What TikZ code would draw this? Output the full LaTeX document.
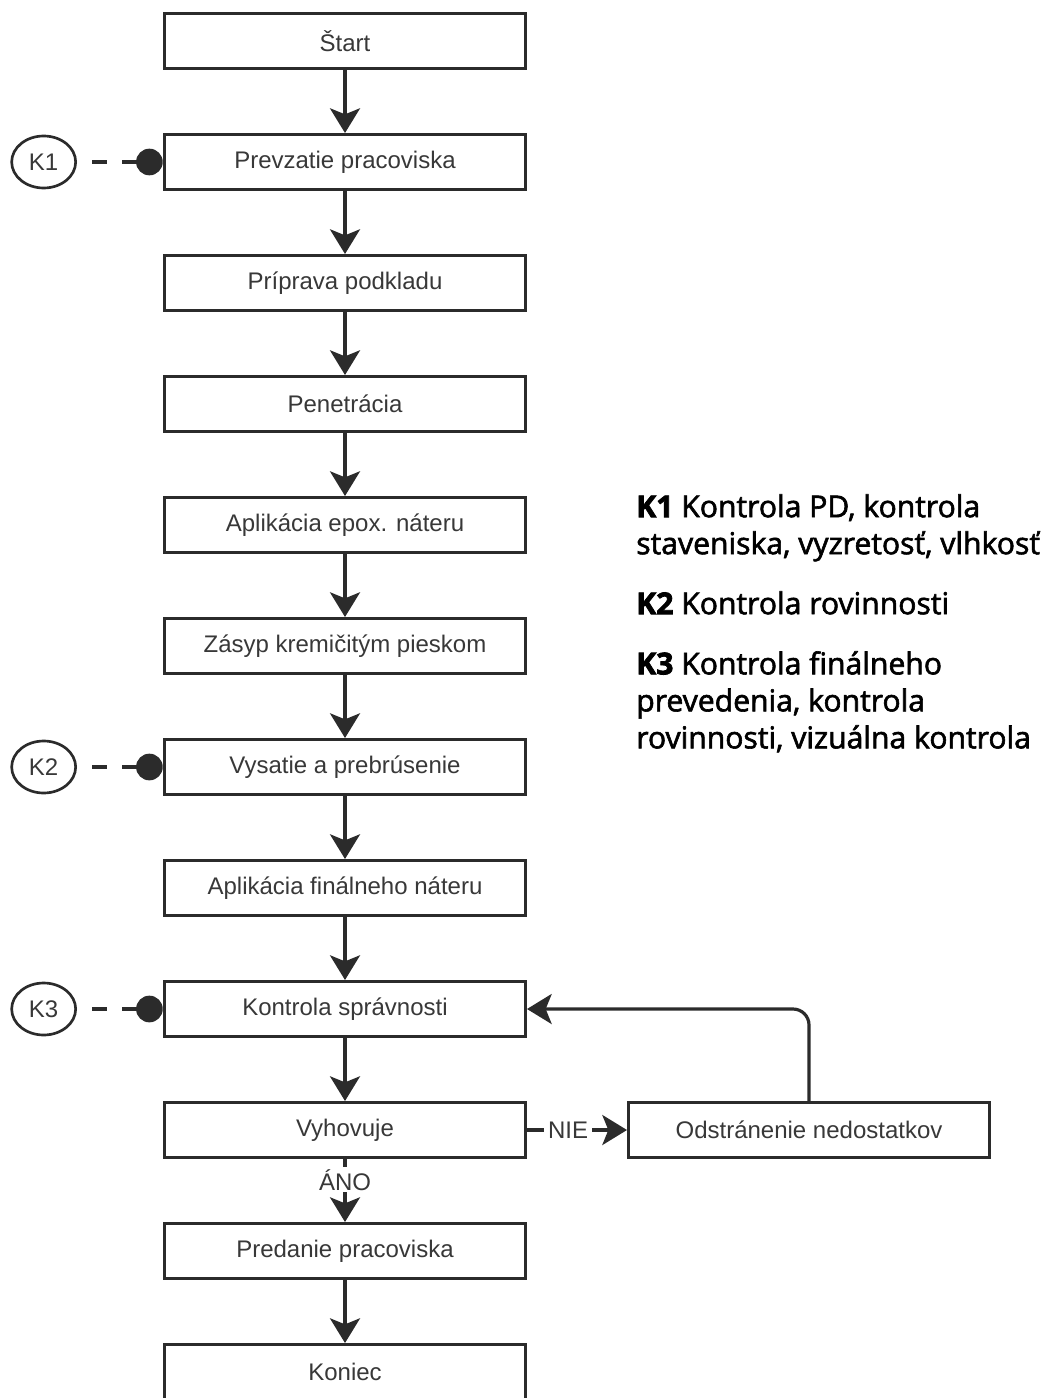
\documentclass[tikz,border=0pt]{standalone}
\usepackage{fontspec}
\setmainfont{Liberation Sans}
\newfontfamily\legendfont{Open Sans}[UprightFeatures={FakeBold=2}, BoldFeatures={FakeBold=2.5}]
\usetikzlibrary{arrows.meta, positioning, shapes.geometric}
\definecolor{linegray}{HTML}{2B2B2B}
\definecolor{textgray}{HTML}{383838}

\begin{document}
\begin{tikzpicture}[
        x=0.75pt, y=-0.75pt,
        node distance=47.25pt,
        stepbox/.style={rectangle, draw=linegray, line width=2.6pt, fill=white,
                        minimum width=270.4pt, minimum height=40.9pt,
                        font=\fontsize{18}{20}\selectfont, text=textgray, inner sep=0pt},
        kmark/.style={ellipse, draw=linegray, line width=2pt,
                      minimum width=48pt, minimum height=39pt,
                      font=\fontsize{18}{20}\selectfont, text=textgray, inner sep=0pt},
        kdot/.style={circle, fill=linegray, minimum size=20pt, inner sep=0pt},
        kdash/.style={line width=2.8pt, draw=linegray,
                      dash pattern=on 11.25pt off 11.25pt, dash phase=11.25pt},
        arr/.style={-{Stealth[length=18.5pt, width=22.5pt, inset=4.5pt]}, line width=2.4pt, draw=linegray},
        lbl/.style={fill=white, inner xsep=3pt, inner ysep=1.5pt, font=\fontsize{18}{20}\selectfont, text=textgray},
        legend/.style={anchor=north west, align=left, inner sep=0pt,
                       font=\legendfont\fontsize{22.6}{27.75}\selectfont},
    ]
    \useasboundingbox (0,0) rectangle (1051,1398);

    % main flow
    \node[stepbox] (start) at (345,41) {Štart};
    \node[stepbox, below=of start] (prevz) {Prevzatie pracoviska};
    \node[stepbox, below=of prevz] (prip) {Príprava podkladu};
    \node[stepbox, below=of prip] (penet) {Penetrácia};
    \node[stepbox, below=of penet] (epox) {Aplikácia epox. náteru};
    \node[stepbox, below=of epox] (zasyp) {Zásyp kremičitým pieskom};
    \node[stepbox, below=of zasyp] (vysat) {Vysatie a prebrúsenie};
    \node[stepbox, below=of vysat] (final) {Aplikácia finálneho náteru};
    \node[stepbox, below=of final] (kontr) {Kontrola správnosti};
    \node[stepbox, below=of kontr] (vyhov) {Vyhovuje};
    \node[stepbox, below=of vyhov] (pred) {Predanie pracoviska};
    \node[stepbox, below=of pred] (koniec) {Koniec};
    \node[stepbox, right=75pt of vyhov] (odstr) {Odstránenie nedostatkov};

    \draw[arr] (start) -- (prevz);
    \draw[arr] (prevz) -- (prip);
    \draw[arr] (prip) -- (penet);
    \draw[arr] (penet) -- (epox);
    \draw[arr] (epox) -- (zasyp);
    \draw[arr] (zasyp) -- (vysat);
    \draw[arr] (vysat) -- (final);
    \draw[arr] (final) -- (kontr);
    \draw[arr] (kontr) -- (vyhov);
    \draw[arr] (vyhov) -- node[lbl, pos=0.33] (ano) {ÁNO} (pred);
    \draw[arr] (pred) -- (koniec);
    \draw[arr] (vyhov) -- node[lbl, pos=0.41] (nie) {NIE} (odstr);
    \draw[arr, rounded corners=12pt] (odstr.north) |- (kontr.east);

    % control points
    \foreach \k/\bx in {1/prevz, 2/vysat, 3/kontr}{
        \node[kmark, left=64.5pt of \bx] (k\k) {K\k};
        \node[kdot, left=0pt of \bx] (kdot\k) {};
        \draw[kdash] (k\k.east) -- (kdot\k.center);
    }

    % legend
    \node[legend] (leg1) at (636,494) {{\bfseries K1} Kontrola PD, kontrola\\staveniska, vyzretosť, vlhkosť};
    \node[legend] (leg2) at (636,591) {{\bfseries K2} Kontrola rovinnosti};
    \node[legend] (leg3) at (636,651) {{\bfseries K3} Kontrola finálneho\\prevedenia, kontrola\\rovinnosti, vizuálna kontrola};
\end{tikzpicture}
\end{document}
